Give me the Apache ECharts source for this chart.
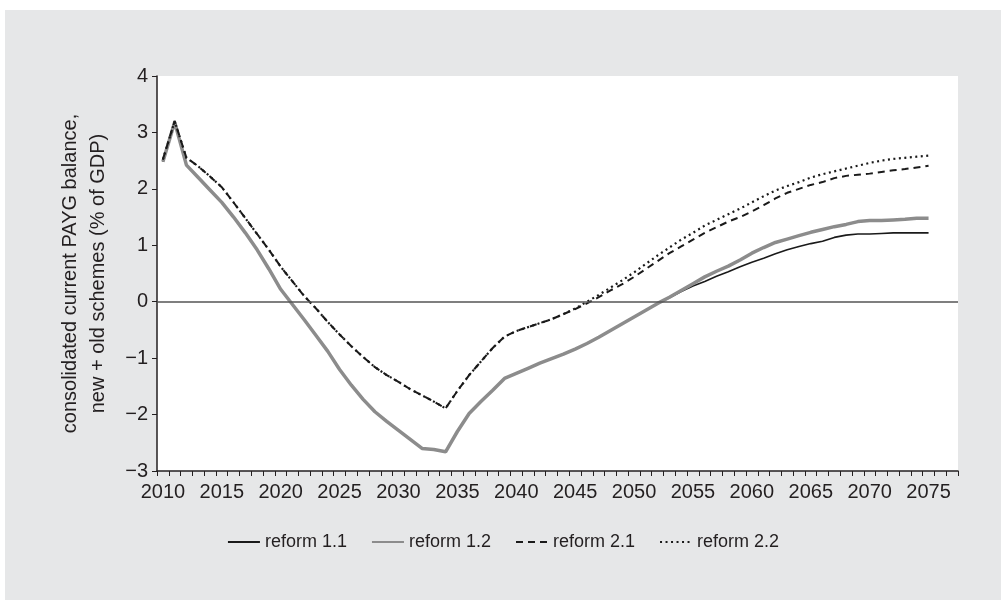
<!DOCTYPE html>
<html>
<head>
<meta charset="utf-8">
<script src="https://cdn.jsdelivr.net/npm/echarts@6/dist/echarts.min.js"></script>
<style>
  html, body { margin: 0; padding: 0; background: #fff; }
  #chart { position: absolute; left: 5px; top: 10px; width: 996px; height: 590px; }
</style>
</head>
<body>
<div id="chart"></div>
<script>
// categories (the axis carries two empty years after 2075, as in the original)
var years = ['2010','2011','2012','2013','2014','2015','2016','2017','2018','2019',
  '2020','2021','2022','2023','2024','2025','2026','2027','2028','2029',
  '2030','2031','2032','2033','2034','2035','2036','2037','2038','2039',
  '2040','2041','2042','2043','2044','2045','2046','2047','2048','2049',
  '2050','2051','2052','2053','2054','2055','2056','2057','2058','2059',
  '2060','2061','2062','2063','2064','2065','2066','2067','2068','2069',
  '2070','2071','2072','2073','2074','2075','2076','2077'];

var reform11 = [2.48, 3.18, 2.42, 2.2, 1.98, 1.76, 1.5, 1.22, 0.92, 0.58,
  0.22, -0.05, -0.32, -0.6, -0.88, -1.2, -1.48, -1.73, -1.95, -2.12,
  -2.28, -2.44, -2.6, -2.62, -2.66, -2.3, -1.98, -1.77, -1.57, -1.36,
  -1.27, -1.18, -1.09, -1.01, -0.93, -0.84, -0.74, -0.63, -0.51, -0.39,
  -0.27, -0.15, -0.03, 0.07, 0.18, 0.28, 0.36, 0.45, 0.53, 0.62,
  0.7, 0.77, 0.85, 0.92, 0.98, 1.03, 1.07, 1.14, 1.18, 1.2,
  1.2, 1.21, 1.22, 1.22, 1.22, 1.22];

var reform12 = [2.48, 3.18, 2.42, 2.2, 1.98, 1.76, 1.5, 1.22, 0.92, 0.58,
  0.22, -0.05, -0.32, -0.6, -0.88, -1.2, -1.48, -1.73, -1.95, -2.12,
  -2.28, -2.44, -2.6, -2.62, -2.66, -2.3, -1.98, -1.77, -1.57, -1.36,
  -1.27, -1.18, -1.09, -1.01, -0.93, -0.84, -0.74, -0.63, -0.51, -0.39,
  -0.27, -0.15, -0.03, 0.08, 0.2, 0.32, 0.44, 0.54, 0.63, 0.74,
  0.86, 0.96, 1.05, 1.11, 1.17, 1.23, 1.28, 1.33, 1.37, 1.42,
  1.44, 1.44, 1.45, 1.46, 1.48, 1.48];

var reform21 = [2.52, 3.2, 2.55, 2.4, 2.22, 2.03, 1.76, 1.48, 1.2, 0.92,
  0.62, 0.36, 0.1, -0.12, -0.36, -0.58, -0.79, -0.98, -1.16, -1.3,
  -1.42, -1.55, -1.66, -1.77, -1.89, -1.58, -1.3, -1.06, -0.82, -0.62,
  -0.52, -0.45, -0.38, -0.31, -0.22, -0.13, -0.03, 0.08, 0.2, 0.31,
  0.44, 0.58, 0.72, 0.86, 0.98, 1.1, 1.22, 1.32, 1.42, 1.5,
  1.6, 1.71, 1.83, 1.93, 2.0, 2.07, 2.12, 2.19, 2.23, 2.25,
  2.27, 2.3, 2.33, 2.35, 2.38, 2.41];

var reform22 = [2.52, 3.2, 2.55, 2.4, 2.22, 2.03, 1.76, 1.48, 1.2, 0.92,
  0.62, 0.36, 0.1, -0.12, -0.36, -0.58, -0.79, -0.98, -1.16, -1.3,
  -1.42, -1.55, -1.66, -1.77, -1.89, -1.58, -1.3, -1.06, -0.82, -0.62,
  -0.52, -0.45, -0.38, -0.31, -0.22, -0.12, 0.0, 0.12, 0.25, 0.38,
  0.52, 0.67, 0.82, 0.96, 1.1, 1.22, 1.35, 1.45, 1.55, 1.65,
  1.76, 1.87, 1.97, 2.05, 2.12, 2.2, 2.26, 2.31, 2.36, 2.41,
  2.46, 2.5, 2.53, 2.55, 2.57, 2.59];

var yMin = -3, yMax = 4, yStep = 1;
var textColor = '#231f20';
var fontName = '"Liberation Sans", Arial, sans-serif';

var myChart = echarts.init(document.getElementById('chart'));

var option = {
  backgroundColor: '#e6e7e8',
  animation: false,
  textStyle: { fontFamily: fontName, color: textColor },
  grid: {
    left: 152, right: 43, top: 66, bottom: 129,
    show: true, backgroundColor: '#ffffff', borderWidth: 0
  },
  legend: {
    bottom: 44,
    left: 'center',
    itemWidth: 32,
    itemHeight: 14,
    itemGap: 24,
    itemStyle: { opacity: 0 },
    textStyle: { fontSize: 18, color: textColor, fontFamily: fontName },
    data: ['reform 1.1', 'reform 1.2', 'reform 2.1', 'reform 2.2']
  },
  xAxis: {
    type: 'category',
    data: years,
    boundaryGap: true,
    axisLine: { onZero: false, lineStyle: { color: textColor, width: 1.5 } },
    axisTick: { show: true, interval: 0, length: 5, lineStyle: { color: textColor, width: 1 } },
    axisLabel: {
      interval: 4, margin: 11, fontSize: 20, color: textColor, fontFamily: fontName
    },
    splitLine: { show: false }
  },
  yAxis: {
    type: 'value',
    min: yMin, max: yMax, interval: yStep,
    name: 'consolidated current PAYG balance,\nnew + old schemes (% of GDP)',
    nameLocation: 'middle',
    nameRotate: 90,
    nameGap: 45,
    nameTextStyle: { fontSize: 20, lineHeight: 28, color: textColor, fontFamily: fontName },
    axisLine: { show: true, lineStyle: { color: textColor, width: 1.5 } },
    axisTick: { show: true, length: 5, lineStyle: { color: textColor, width: 1 } },
    axisLabel: {
      margin: 9, fontSize: 20, color: textColor, fontFamily: fontName,
      formatter: function (v) { return String(v).replace('-', '\u2212'); }
    },
    splitLine: { show: false }
  },
  series: [
    {
      name: 'reform 1.1',
      type: 'line',
      data: reform11,
      symbol: 'none',
      lineStyle: { color: '#1a1a1a', width: 1.6 },
      itemStyle: { color: '#1a1a1a' },
      markLine: {
        silent: true,
        symbol: ['none', 'none'],
        label: { show: false },
        lineStyle: { color: '#555555', width: 1.5, type: 'solid' },
        data: [{ yAxis: 0 }]
      }
    },
    {
      name: 'reform 1.2',
      type: 'line',
      data: reform12,
      symbol: 'none',
      lineStyle: { color: '#8c8c8c', width: 3.5 },
      itemStyle: { color: '#8c8c8c' }
    },
    {
      name: 'reform 2.1',
      type: 'line',
      data: reform21,
      symbol: 'none',
      lineStyle: { color: '#1a1a1a', width: 2, type: [7, 5] },
      itemStyle: { color: '#1a1a1a' }
    },
    {
      name: 'reform 2.2',
      type: 'line',
      data: reform22,
      symbol: 'none',
      lineStyle: { color: '#1a1a1a', width: 2.2, type: [2, 3.5] },
      itemStyle: { color: '#1a1a1a' }
    }
  ]
};

myChart.setOption(option);
</script>
</body>
</html>
